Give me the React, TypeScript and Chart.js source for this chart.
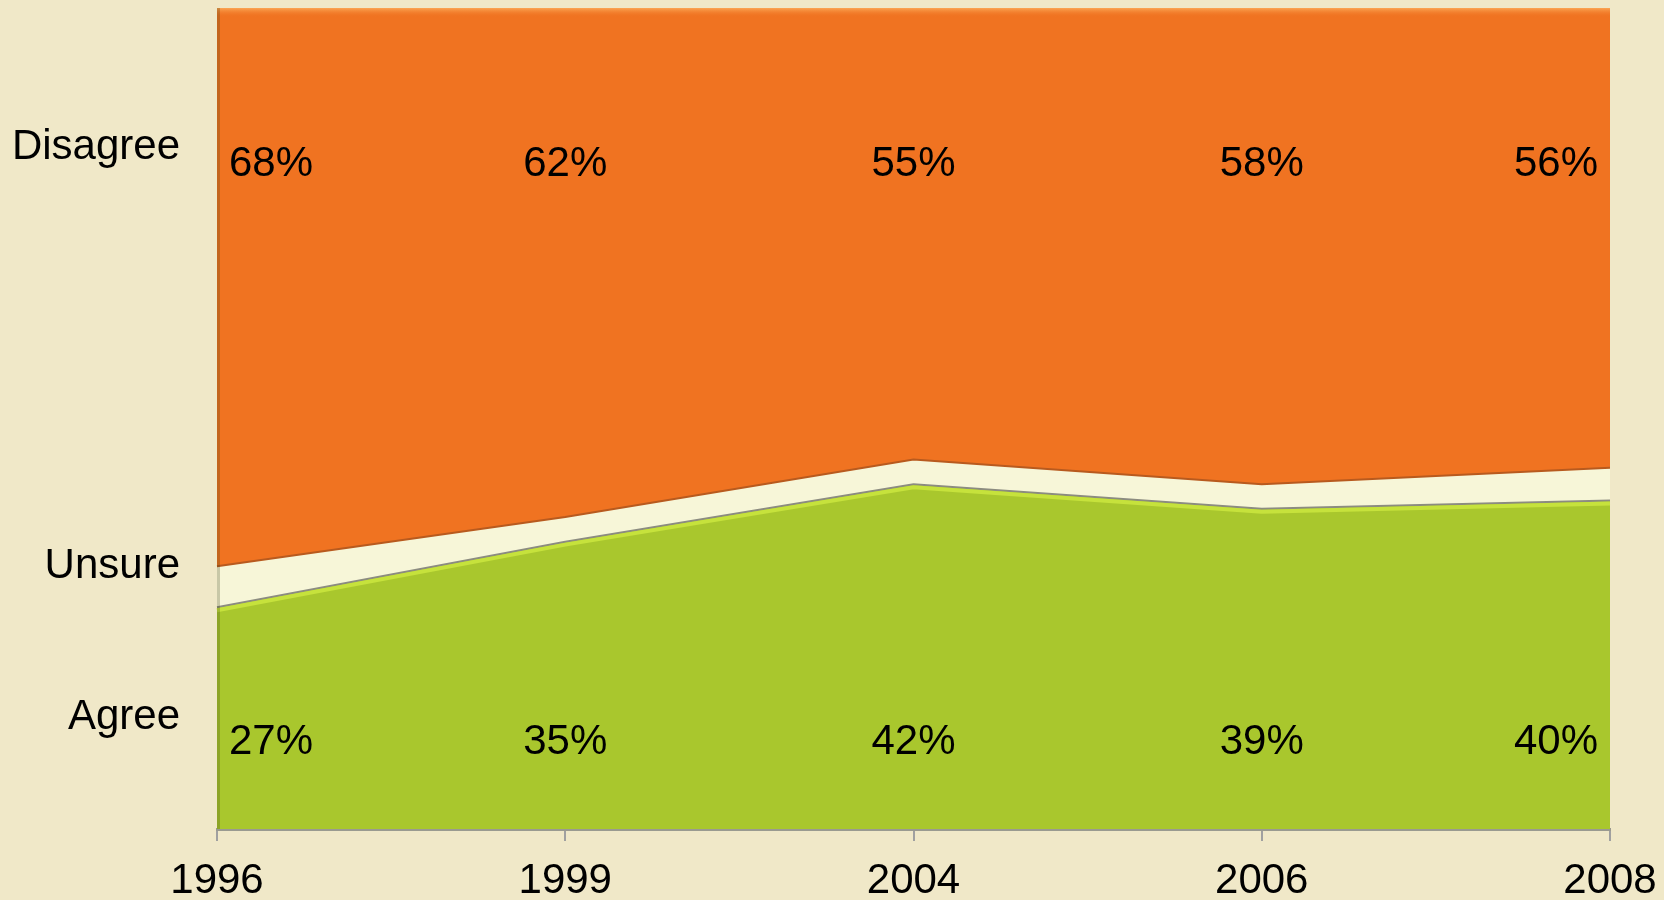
import React, { useEffect, useRef } from "react";
import { Chart, registerables } from "chart.js";

Chart.register(...registerables);

const years = ["1996", "1999", "2004", "2006", "2008"];
const agree = [27, 35, 42, 39, 40];
const unsure = [5, 3, 3, 3, 4];
const disagree = [68, 62, 55, 58, 56];

const sideLabels = ["Agree", "Unsure", "Disagree"];
const sideLabelValues = [13.6, 32, 83];

const FONT = "'Liberation Sans', Arial, sans-serif";

const labelPlugin = {
  id: "pctLabels",
  afterDatasetsDraw(chart: any) {
    const { ctx, chartArea } = chart;
    const xs = chart.scales.x;
    const ys = chart.scales.y;
    const aMeta = chart.getDatasetMeta(0);
    ctx.save();
    ctx.beginPath();
    aMeta.data.forEach((p: any, i: number) => {
      if (i === 0) ctx.moveTo(p.x, p.y + 3);
      else ctx.lineTo(p.x, p.y + 3);
    });
    ctx.strokeStyle = "#C6E23C";
    ctx.lineWidth = 4;
    ctx.stroke();
    const g = ctx.createLinearGradient(0, chartArea.top, 0, chartArea.top + 9);
    g.addColorStop(0, "#FBA654");
    g.addColorStop(1, "rgba(240,115,34,0)");
    ctx.fillStyle = g;
    ctx.fillRect(chartArea.left, chartArea.top, chartArea.right - chartArea.left, 9);
    ctx.fillStyle = "rgba(60,60,20,0.25)";
    ctx.fillRect(chartArea.left, chartArea.top, 3, chartArea.bottom - chartArea.top);
    ctx.restore();

    ctx.save();
    ctx.font = `42px ${FONT}`;
    ctx.fillStyle = "#000";
    ctx.textBaseline = "middle";
    ctx.textAlign = "center";
    const pad = 12;
    const draw = (arr: number[], yv: number) => {
      arr.forEach((v, i) => {
        const t = `${v}%`;
        const w = ctx.measureText(t).width;
        let x = xs.getPixelForValue(i);
        x = Math.max(chartArea.left + pad + w / 2, Math.min(chartArea.right - pad - w / 2, x));
        ctx.fillText(t, x, ys.getPixelForValue(yv));
      });
    };
    draw(disagree, 81);
    draw(agree, 10.5);
    ctx.restore();
  },
};

export default function App() {
  const ref = useRef<HTMLCanvasElement>(null);
  useEffect(() => {
    if (!ref.current) return;
    const chart = new Chart(ref.current, {
      type: "line",
      data: {
        labels: years,
        datasets: [
          {
            label: "Agree",
            data: agree,
            backgroundColor: "#A9C72D",
            borderColor: "#8C8C80",
            borderWidth: 2,
            fill: "origin",
            pointRadius: 0,
            tension: 0,
          },
          {
            label: "Unsure",
            data: unsure,
            backgroundColor: "#F7F6D8",
            borderColor: "#B85A1E",
            borderWidth: 2,
            fill: "-1",
            pointRadius: 0,
            tension: 0,
          },
          {
            label: "Disagree",
            data: disagree,
            backgroundColor: "#F07321",
            borderColor: "#F07321",
            borderWidth: 0,
            fill: "-1",
            pointRadius: 0,
            tension: 0,
          },
        ],
      },
      options: {
        animation: false,
        responsive: false,
        maintainAspectRatio: false,
        layout: { padding: { top: 8, right: 54, left: 0, bottom: 0 } },
        plugins: { legend: { display: false }, tooltip: { enabled: false } },
        scales: {
          x: {
            offset: false,
            grid: {
              display: true,
              drawOnChartArea: false,
              drawTicks: true,
              tickLength: 12,
              color: "#A0A0A0",
              lineWidth: 2,
            },
            border: { display: true, color: "#9A9A90", width: 3 },
            ticks: {
              color: "#000",
              font: { family: FONT, size: 42 },
              padding: 15,
              maxRotation: 0,
              autoSkip: false,
            },
            afterFit: (s: any) => {
              s.height = 71;
              s.paddingLeft = 0;
              s.paddingRight = 0;
            },
          },
          y: {
            stacked: true,
            min: 0,
            max: 100,
            grid: { display: false, drawTicks: false },
            border: { display: false },
            afterBuildTicks: (s: any) => {
              s.ticks = sideLabelValues.map((v) => ({ value: v }));
            },
            ticks: {
              color: "#000",
              font: { family: FONT, size: 42 },
              padding: 37,
              autoSkip: false,
              callback: (v: any) => {
                const i = sideLabelValues.indexOf(Number(v));
                return i >= 0 ? sideLabels[i] : "";
              },
            },
            afterFit: (s: any) => {
              s.width = 217;
              s.paddingTop = 0;
              s.paddingBottom = 0;
            },
          },
        },
      },
      plugins: [labelPlugin],
    });
    return () => chart.destroy();
  }, []);
  return (
    <div style={{ position: "fixed", left: 0, top: 0, width: 1664, height: 900, background: "#F0E8C8" }}>
      <canvas ref={ref} width={1664} height={900} style={{ display: "block" }} />
    </div>
  );
}
